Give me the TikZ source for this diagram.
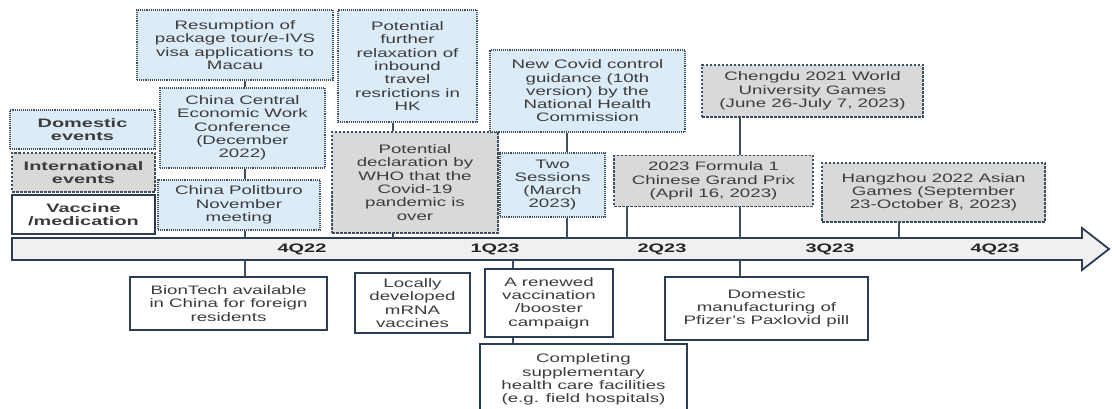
\documentclass[tikz,border=0pt]{standalone}
\usepackage{fontspec}
\setmainfont[FakeStretch=1.52]{Liberation Sans}
\newfontfamily\boldlab[FakeStretch=1.62]{Liberation Sans}
\definecolor{txt}{HTML}{3C3C3C}
\definecolor{edge}{HTML}{3E4E5E}
\definecolor{navy}{HTML}{2A3D52}
\definecolor{blueF}{HTML}{DCEBF8}
\definecolor{grayF}{HTML}{D9D9D9}
\definecolor{barF}{HTML}{F0F0F0}
\tikzset{
  box/.style={rectangle, inner sep=1pt, align=center, text=txt,
    font=\fontsize{12.3}{13.3}\selectfont},
  dom/.style={box, draw=edge, fill=blueF, line width=1.1pt, densely dotted},
  intl/.style={box, draw=edge, fill=grayF, line width=1.1pt, dash pattern=on 2.5pt off 1.5pt},
  vac/.style={box, draw=navy, fill=white, line width=1.6pt},
  conn/.style={draw=edge, line width=1.2pt},
  boldtxt/.style={font=\boldlab\bfseries\fontsize{12.3}{13.3}\selectfont},
  qlab/.style={boldtxt, text=black!85},
}
\begin{document}
\begin{tikzpicture}[x=1pt,y=-1pt]
\clip (0,0) rectangle (1112,409);
\fill[white] (0,0) rectangle (1112,409);

% timeline bar
\draw[navy, fill=barF, line width=1.8pt, line join=miter]
  (12,238) -- (1082,238) -- (1082,228) -- (1109,249) -- (1082,270) -- (1082,260) -- (12,260) -- cycle;
\node[qlab] (q1) at (302,249) {4Q22};
\node[qlab] (q2) at (495,249) {1Q23};
\node[qlab] (q3) at (662,249) {2Q23};
\node[qlab] (q4) at (830,249) {3Q23};
\node[qlab] (q5) at (995,249) {4Q23};
\coordinate (bartop) at (0,238);
\coordinate (barbot) at (0,260);

% legend
\node[dom, boldtxt, minimum width=145, minimum height=39] (legd) at (82.5,129.5) {Domestic\\events};
\node[intl, boldtxt, minimum width=143, minimum height=39] (legi) at (83.5,172.5) {International\\events};
\node[vac, boldtxt, minimum width=143, minimum height=39] (legv) at (83.5,214.5) {Vaccine\\/medication};

% top events
\node[dom, minimum width=196, minimum height=70] (res) at (235,45) {Resumption of\\package tour/e-IVS\\visa applications to\\Macau};
\node[dom, minimum width=165, minimum height=80] (cec) at (242.5,128) {China Central\\Economic Work\\Conference\\(December\\2022)};
\node[dom, minimum width=162, minimum height=50] (pol) at (239,205) {China Politburo\\November\\meeting};
\node[dom, minimum width=139, minimum height=112] (rel) at (407.5,66) {Potential\\further\\relaxation of\\inbound\\travel\\resrictions in\\HK};
\node[intl, minimum width=166, minimum height=101] (who) at (415,182.5) {Potential\\declaration by\\WHO that the\\Covid-19\\pandemic is\\over};
\node[dom, minimum width=195, minimum height=82] (ncg) at (587.5,91) {New Covid control\\guidance (10th\\version) by the\\National Health\\Commission};
\node[dom, minimum width=105, minimum height=64] (two) at (552.5,185) {Two\\Sessions\\(March\\2023)};
\node[intl, minimum width=221, minimum height=52] (cheng) at (812.5,91) {Chengdu 2021 World\\University Games\\(June 26-July 7, 2023)};
\node[intl, minimum width=199, minimum height=51] (f1) at (713.5,181) {2023 Formula 1\\Chinese Grand Prix\\(April 16, 2023)};
\node[intl, minimum width=223, minimum height=59] (hz) at (933.5,192.5) {Hangzhou 2022 Asian\\Games (September\\23-October 8, 2023)};

% bottom events
\node[vac, minimum width=197, minimum height=53] (bt) at (228.5,303.5) {BionTech available\\in China for foreign\\residents};
\node[vac, minimum width=115, minimum height=60] (mrna) at (412.5,303) {Locally\\developed\\mRNA\\vaccines};
\node[vac, minimum width=128, minimum height=68] (ren) at (549,303) {A renewed\\vaccination\\/booster\\campaign};
\node[vac, minimum width=207, inner ysep=10pt, anchor=north] (comp) at (583.5,343) {Completing\\supplementary\\health care facilities\\(e.g. field hospitals)};
\node[vac, minimum width=203, minimum height=63] (dm) at (766.5,308.5) {Domestic\\manufacturing of\\Pfizer's Paxlovid pill};

% connector columns
\coordinate (xa) at (245,0);
\coordinate (xb) at (393,0);
\coordinate (xc) at (567,0);
\coordinate (xd) at (513,0);
\coordinate (xe) at (627,0);
\coordinate (xf) at (740,0);
\coordinate (xg) at (899,0);

\path[conn] (res.south -| xa) -- (cec.north -| xa);
\path[conn] (cec.south -| xa) -- (pol.north -| xa);
\path[conn] (pol.south -| xa) -- (bartop -| xa);
\path[conn] (barbot -| xa) -- (bt.north -| xa);

\path[conn] (rel.south -| xb) -- (who.north -| xb);
\path[conn] (who.south -| xb) -- (bartop -| xb);

\path[conn] (ncg.south -| xc) -- (two.north -| xc);
\path[conn] (two.south -| xc) -- (bartop -| xc);

\path[conn] (barbot -| xd) -- (ren.north -| xd);
\path[conn] (ren.south -| xd) -- (comp.north -| xd);

\path[conn] (f1.south -| xe) -- (bartop -| xe);

\path[conn] (cheng.south -| xf) -- (f1.north -| xf);
\path[conn] (f1.south -| xf) -- (bartop -| xf);
\path[conn] (barbot -| xf) -- (dm.north -| xf);

\path[conn] (hz.south -| xg) -- (bartop -| xg);
\end{tikzpicture}
\end{document}
